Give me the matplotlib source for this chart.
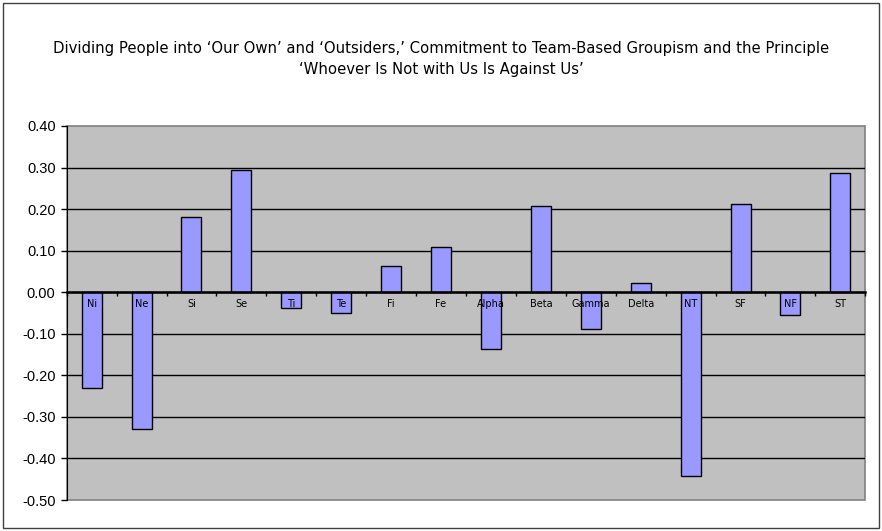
import matplotlib.pyplot as plt
from matplotlib.patches import Rectangle
from matplotlib.ticker import FormatStrFormatter
import numpy as np

plt.rcParams['axes.unicode_minus'] = False

# Data
categories = ['Ni', 'Ne', 'Si', 'Se', 'Ti', 'Te', 'Fi', 'Fe', 'Alpha', 'Beta',
              'Gamma', 'Delta', 'NT', 'SF', 'NF', 'ST']
values = [-0.23, -0.33, 0.18, 0.295, -0.037, -0.051, 0.062, 0.108, -0.137, 0.208,
          -0.089, 0.023, -0.443, 0.212, -0.056, 0.288]
y_ticks = [0.40, 0.30, 0.20, 0.10, 0.00, -0.10, -0.20, -0.30, -0.40, -0.50]

title = ("Dividing People into \u2018Our Own\u2019 and \u2018Outsiders,\u2019 Commitment to "
         "Team-Based Groupism and the Principle\n\u2018Whoever Is Not with Us Is Against Us\u2019")

W, H = 882, 531
fig = plt.figure(figsize=(W / 100, H / 100), dpi=100)
ax = fig.add_axes([66.7 / W, 1 - 500 / H, (865.3 - 66.7) / W, (500 - 126) / H])

x = np.arange(len(categories))
ax.bar(x, values, width=0.4, color='#9999FF', edgecolor='black', linewidth=1, zorder=3)

ax.set_xlim(-0.5, len(categories) - 0.5)
ax.set_ylim(-0.5, 0.4)
ax.set_facecolor('#C0C0C0')
ax.patch.set_edgecolor('#808080')
ax.patch.set_linewidth(1.2)

# horizontal grid (not on the frame edges)
ax.set_yticks(y_ticks)
ax.yaxis.set_major_formatter(FormatStrFormatter('%.2f'))
ax.grid(axis='y', color='black', linewidth=1)
ax.set_axisbelow(True)
for tick_val, gl in zip(y_ticks, ax.yaxis.get_gridlines()):
    if tick_val in (0.40, -0.50):
        gl.set_visible(False)
ax.tick_params(axis='y', direction='out', length=4, width=1, labelsize=10.5, pad=4)
for lab in ax.get_yticklabels():
    lab.set_family('Liberation Sans')

# category axis at zero, labels drawn over the bars
ax.spines['bottom'].set_position(('data', 0))
ax.spines['bottom'].set_linewidth(1.8)
ax.spines['bottom'].set_zorder(4)
for s in ['top', 'right']:
    ax.spines[s].set_visible(False)
ax.spines['left'].set_color('black')
ax.set_xticks(np.arange(len(categories) + 1) - 0.5)
ax.set_xticklabels([])
ax.set_xticks(x, minor=True)
ax.set_xticklabels(categories, minor=True)
ax.tick_params(axis='x', which='major', direction='out', length=3, width=1)
ax.tick_params(axis='x', which='minor', length=0, labelsize=7, pad=5)
ax.xaxis.set_zorder(5)

fig.text(0.5, 1 - 59 / H, title, ha='center', va='center', fontsize=10.75,
         linespacing=1.45)

# outer chart border
fig.patches.append(Rectangle((3 / W, 3 / H), 876 / W, 525 / H, transform=fig.transFigure,
                             fill=False, edgecolor='#404040', linewidth=1))

fig.savefig('out.png', dpi=100)
